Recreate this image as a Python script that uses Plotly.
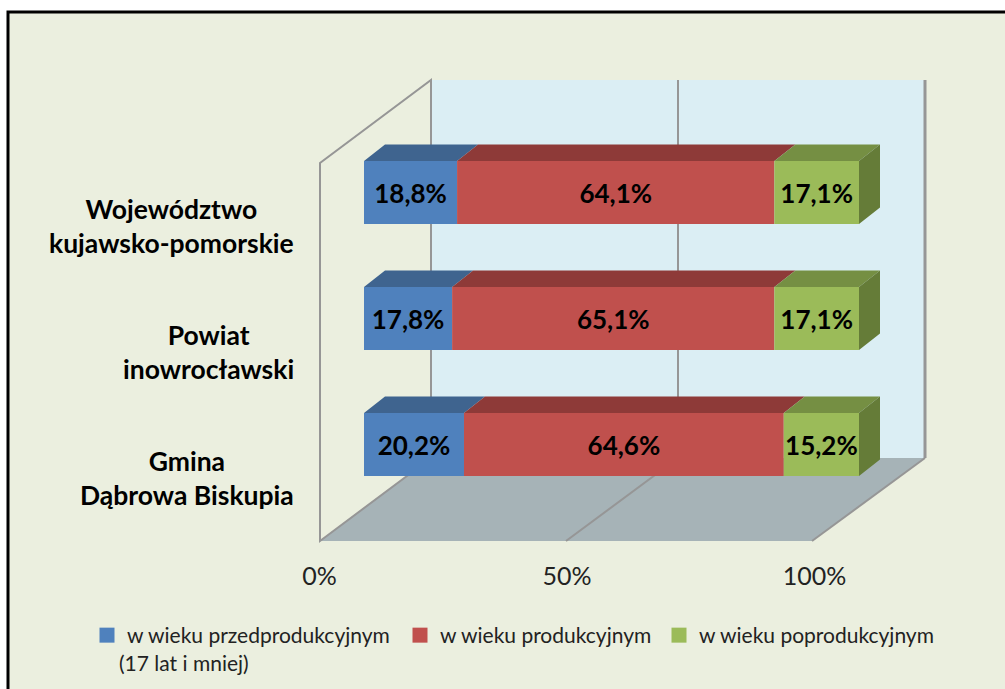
import plotly.graph_objects as go

W, H = 1005, 689
categories = ["Gmina<br>Dąbrowa Biskupia", "Powiat<br>inowrocławski", "Województwo<br>kujawsko-pomorskie"]
series_names = ["w wieku przedprodukcyjnym", "w wieku produkcyjnym", "w wieku poprodukcyjnym"]
legend_note = "(17 lat i mniej)"
pre_working = [20.2, 17.8, 18.8]
working = [64.6, 65.1, 64.1]
post_working = [15.2, 17.1, 17.1]
tick_values = [0, 50, 100]
tick_labels = ["0%", "50%", "100%"]

front_colors = ["#4F81BD", "#C0504D", "#9BBB59"]
top_colors = ["#3F648F", "#8E3A38", "#758F43"]
side_color = "#657C38"
BG = "#EBEFDF"; WALL = "#DBEEF4"; FLOOR = "#A6B3B7"; GRID = "#969696"
FONT = "Lato"

# pixel geometry of the axes
X0, XS = 319.5, 4.95
Y0, YS = 444.5, 126.0
PLOT_BOTTOM = 559
def dx(px): return (px - X0) / XS
def dy(py): return (Y0 - py) / YS
BAR_BASE = dx(364)
BAR_W = 0.5
TOP_DX, TOP_DY = 21 / XS, 16.5 / YS
F_L, F_R, F_M = dx(320), dx(812), dx(566)
B_L, B_R, B_M = dx(431), dx(925), dx(678)
F_B, F_T = dy(541), dy(163)
B_B, B_T = dy(458), dy(80)

fig = go.Figure()
series = [pre_working, working, post_working]
ypos = list(range(len(categories)))
cum = [BAR_BASE] * len(categories)
for name, vals, col, top in zip(series_names, series, front_colors, top_colors):
    fig.add_trace(go.Bar(
        y=ypos, x=vals, base=cum, name=name, orientation="h", width=BAR_W,
        marker=dict(color=col, line=dict(width=0)), showlegend=False,
        text=[f"{v:.1f}%".replace(".", ",") for v in vals], textposition="inside",
        insidetextanchor="middle", textangle=0, constraintext="none",
        textfont=dict(family=FONT, size=26, color="#000000", weight="bold"),
        hoverinfo="skip",
    ))
    xs, ys = [], []
    for y, b, v in zip(ypos, cum, vals):
        t = y + BAR_W / 2
        xs += [b, b + v, b + v + TOP_DX, b + TOP_DX, b, None]
        ys += [t, t, t + TOP_DY, t + TOP_DY, t, None]
    fig.add_trace(go.Scatter(x=xs, y=ys, mode="lines", fill="toself", fillcolor=top,
                             line=dict(width=0, color=top), showlegend=False, hoverinfo="skip"))
    cum = [b + v for b, v in zip(cum, vals)]

xs, ys = [], []
for y, b in zip(ypos, cum):
    t, u = y + BAR_W / 2, y - BAR_W / 2
    xs += [b, b + TOP_DX, b + TOP_DX, b, b, None]
    ys += [t, t + TOP_DY, u + TOP_DY, u, t, None]
fig.add_trace(go.Scatter(x=xs, y=ys, mode="lines", fill="toself", fillcolor=side_color,
                         line=dict(width=0, color=side_color), showlegend=False, hoverinfo="skip"))

# legend keys (square markers of the size used in the reference)
for name, col, lg in zip(series_names, front_colors, ["legend", "legend2", "legend3"]):
    fig.add_trace(go.Scatter(x=[None], y=[None], mode="markers", name=name, legend=lg,
                             marker=dict(symbol="square", size=15, color=col), hoverinfo="skip"))

def poly(pts):
    return "M" + "L".join(f"{x},{y}" for x, y in pts) + "Z"

grid = dict(color=GRID, width=2)
shapes = [
    dict(type="rect", xref="paper", yref="paper", x0=8 / W, x1=1.02,
         y0=-0.5, y1=(PLOT_BOTTOM - 12) / PLOT_BOTTOM,
         fillcolor=BG, line=dict(color="#000000", width=3), layer="below"),
    dict(type="path", path=poly([(B_L, B_B), (B_R, B_B), (B_R, B_T), (B_L, B_T)]),
         fillcolor=WALL, line=dict(width=0), layer="below"),
    dict(type="path", path=poly([(F_L, F_B), (F_R, F_B), (B_R, B_B), (B_L, B_B)]),
         fillcolor=FLOOR, line=dict(width=0), layer="below"),
    dict(type="path", path=poly([(F_L, F_B), (B_L, B_B), (B_L, B_T), (F_L, F_T)]),
         fillcolor=BG, line=grid, layer="below"),
    dict(type="line", x0=F_M, y0=F_B, x1=B_M, y1=B_B, line=grid, layer="below"),
    dict(type="line", x0=B_M, y0=B_B, x1=B_M, y1=B_T, line=grid, layer="below"),
    dict(type="line", x0=F_R, y0=F_B, x1=B_R, y1=B_B, line=grid, layer="below"),
    dict(type="line", x0=B_R, y0=B_B, x1=B_R, y1=B_T, line=dict(color=GRID, width=3), layer="below"),
]

annotations = [dict(x=dx(296), y=y, xref="x", yref="y", text=f"<b>{c}</b>", showarrow=False,
                    xanchor="right", yanchor="middle", align="center", yshift=-33,
                    font=dict(family=FONT, size=26.5, color="#000000"))
               for y, c in zip(ypos, categories)]
annotations.append(dict(x=117 / W, y=(PLOT_BOTTOM - 663) / PLOT_BOTTOM, xref="paper", yref="paper",
                        text=legend_note, showarrow=False, xanchor="left", yanchor="middle",
                        font=dict(family=FONT, size=21, color="#222222")))

legend_font = dict(family=FONT, size=21, color="#222222")
def leg(px):
    return dict(x=px / W, xref="paper", y=(PLOT_BOTTOM - 615) / PLOT_BOTTOM, yref="paper", yanchor="top", xanchor="left",
                bgcolor="rgba(0,0,0,0)", font=legend_font, borderwidth=0, itemclick=False, itemdoubleclick=False)

fig.update_layout(
    width=W, height=H, autosize=False, paper_bgcolor="#FFFFFF", plot_bgcolor="rgba(0,0,0,0)",
    margin=dict(l=0, r=0, t=0, b=H - PLOT_BOTTOM, pad=0),
    barmode="overlay", showlegend=True, shapes=shapes, annotations=annotations,
    font=dict(family=FONT),
    legend=leg(87), legend2=leg(400), legend3=leg(659),
    xaxis=dict(range=[dx(0), dx(W)], tickvals=tick_values, ticktext=tick_labels, showgrid=False,
               zeroline=False, showline=False, ticks="", tickfont=dict(family=FONT, size=25, color="#222222"),
               fixedrange=True),
    yaxis=dict(range=[dy(PLOT_BOTTOM), dy(0)], showticklabels=False, showgrid=False, zeroline=False,
               showline=False, ticks="", fixedrange=True),
)
fig.write_html("out.html", config=dict(displayModeBar=False),
               post_script="document.body.style.margin='0';document.documentElement.style.overflow='hidden';")
